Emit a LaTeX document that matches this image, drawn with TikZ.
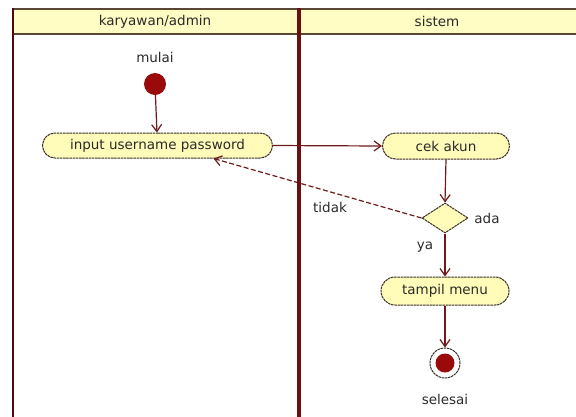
\documentclass[tikz,border=0pt]{standalone}
\usepackage{fontspec}
\setmainfont{DejaVu Sans}
\usetikzlibrary{shapes.misc,shapes.geometric,arrows.meta}
\definecolor{frame}{HTML}{6B1010}
\definecolor{hdrline}{HTML}{5B4636}
\definecolor{hdrfill}{HTML}{FFFDC4}
\definecolor{actfill}{HTML}{FFFBB8}
\definecolor{actline}{HTML}{3A3028}
\definecolor{flow}{HTML}{6E1A1A}
\definecolor{dot}{HTML}{9A0A0A}
\definecolor{txt}{HTML}{2A2A2A}
\tikzset{
  lbl/.style={font=\fontsize{13.5}{15}\selectfont, text=txt, inner sep=0pt},
  act/.style={rounded rectangle, draw=actline, line width=1pt,
    dash pattern=on 2.5pt off 0.7pt, fill=actfill, lbl, inner sep=0pt},
  decision/.style={diamond, draw=actline, line width=1pt,
    dash pattern=on 2.5pt off 0.7pt, fill=actfill, inner sep=0pt},
  flowline/.style={draw=flow, line width=1.2pt, -{Straight Barb[length=7pt,width=10pt]}},
}
\begin{document}
\begin{tikzpicture}[x=1pt,y=-1pt]
\useasboundingbox (0,0) rectangle (576,416);
\clip (0,0) rectangle (576,416);
% swimlane frame
\fill[hdrfill] (12.5,9) rectangle (580,34);
\draw[hdrline, line width=1.6pt] (12.5,9) -- (580,9);
\draw[hdrline, line width=1.6pt] (12.5,34) -- (580,34);
\draw[frame!70!black, line width=2pt] (12.5,8.2) -- (12.5,420);
\draw[frame, line width=4.5pt] (299,8.2) -- (299,420);
\node[lbl] (lane1) at (155,21.5) {karyawan/admin};
\node[lbl] (lane2) at (437,21.5) {sistem};
% nodes
\node[lbl] (mulai) at (155,57) {mulai};
\node[circle, fill=dot, minimum size=22pt, inner sep=0pt] (start) at (155,84) {};
\node[act, minimum width=230pt, minimum height=25pt] (input) at (157.5,145.5) {input username password};
\node[act, minimum width=127pt, minimum height=26pt] (cek) at (446,146) {cek akun};
\node[decision, minimum width=46pt, minimum height=30pt] (dec) at (445,218) {};
\node[act, minimum width=128pt, minimum height=28pt] (tampil) at (445,291) {tampil menu};
\node[circle, draw=actline, line width=1pt, dash pattern=on 2.5pt off 0.7pt,
  fill=white, minimum size=30pt, inner sep=0pt] (end) at (445,363) {};
\node[circle, fill=dot, minimum size=19pt, inner sep=0pt] (endin) at (end) {};
\node[lbl] (selesai) at (445,399) {selesai};
\node[lbl] (tidak) at (330,207) {tidak};
\node[lbl] (ada) at (487,218) {ada};
\node[lbl] (ya) at (425,247) {ya};
\coordinate (back) at ([xshift=56pt]input.south);
% connectors
\draw[flowline] (start) -- (input);
\draw[flowline] (input.east) -- (cek.west);
\draw[flowline] (cek.south) -- (dec.north);
\draw[flowline, dash pattern=on 5pt off 2.5pt] (dec.west) -- (back);
\draw[flowline] (dec.south) -- (tampil.north);
\draw[flowline] (tampil.south) -- (end.north);
\end{tikzpicture}
\end{document}
